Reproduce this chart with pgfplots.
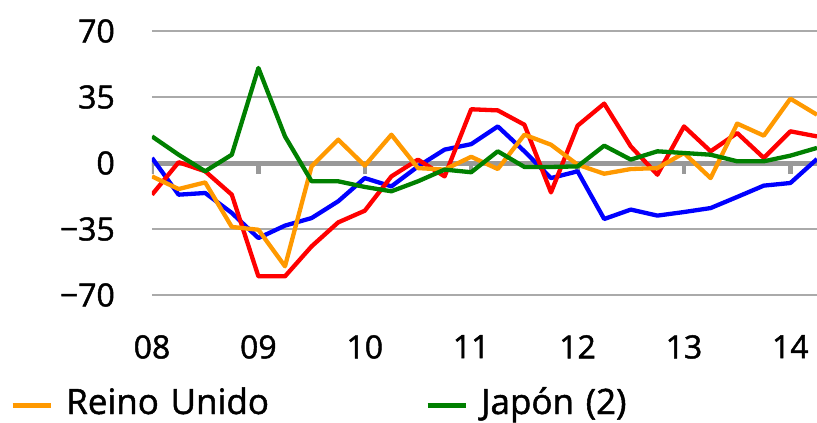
\documentclass[border=0pt]{standalone}
\usepackage{fontspec}
\setmainfont{Open Sans}[FakeBold=1.4]
\usepackage{pgfplots}
\pgfplotsset{compat=1.18}

\definecolor{ukorange}{RGB}{255,153,0}
\definecolor{jpgreen}{RGB}{0,128,0}
\definecolor{gridgray}{RGB}{170,170,170}
\definecolor{zerogray}{RGB}{153,153,153}

\begin{document}
\begin{tikzpicture}
\useasboundingbox (-152pt,-128pt) rectangle (665pt,295pt);
\begin{axis}[
  scale only axis,
  width=665pt,height=264pt,
  xmin=2008,xmax=2014.25,
  ymin=-70,ymax=70,
  axis line style={draw=none},
  major tick length=0pt,
  xtick={2008,...,2014},
  xticklabels={08,09,10,11,12,13,14},
  ytick={-70,-35,0,35,70},
  yticklabels={−70,−35,0,35,70},
  xticklabel style={font=\fontsize{32}{38}\selectfont,anchor=north,inner sep=0pt,yshift=-40pt},
  yticklabel style={font=\fontsize{32}{38}\selectfont,anchor=east,inner sep=0pt,xshift=-37pt},
  extra y ticks={-70,-35,35,70},
  extra y tick labels={},
  extra y tick style={grid=major,major grid style={gridgray,line width=2.3pt}},
  legend columns=2,
  legend image code/.code={\draw[#1,line width=5pt] (0pt,0pt) -- (38pt,0pt);},
  legend style={at={(0,0)},anchor=west,xshift=-142pt,yshift=-110pt,
    draw=none,fill=none,inner sep=0pt,
    nodes={inner sep=0pt,anchor=west,text width=346pt,text height=27pt,text depth=9pt,
      font=\fontsize{35}{42}\selectfont},
    /tikz/every odd column/.append style={column sep=13pt},
    /tikz/every even column/.append style={column sep=13pt}},
  every axis plot/.append style={line width=4.3pt,line join=round},
]
% zero line with year ticks
\draw[zerogray,line width=5pt] (axis cs:2007.97,0) -- (axis cs:2014.25,0);
\pgfplotsinvokeforeach{2008,...,2014}{
  \draw[zerogray,line width=4.5pt] (axis cs:#1,0) -- ++(0pt,-11pt);
}
% blue
\addplot[blue,forget plot] coordinates {
(2008.00,2.7) (2008.25,-16.8) (2008.50,-15.9) (2008.75,-26.5)
(2009.00,-39.8) (2009.25,-33.2) (2009.50,-29.2) (2009.75,-20.3)
(2010.00,-8.0) (2010.25,-12.4) (2010.50,-1.8) (2010.75,7.1)
(2011.00,10.0) (2011.25,19.4) (2011.50,6.2) (2011.75,-8.0)
(2012.00,-4.4) (2012.25,-29.7) (2012.50,-24.7) (2012.75,-27.9)
(2013.00,-26.0) (2013.25,-23.9) (2013.50,-18.0) (2013.75,-12.0)
(2014.00,-10.6) (2014.25,2.1)};
% red
\addplot[red,forget plot] coordinates {
(2008.00,-16.8) (2008.25,0.4) (2008.50,-4.4) (2008.75,-16.8)
(2009.00,-60.1) (2009.25,-60.1) (2009.50,-44.2) (2009.75,-31.5)
(2010.00,-25.3) (2010.25,-7.1) (2010.50,1.8) (2010.75,-7.1)
(2011.00,28.5) (2011.25,27.9) (2011.50,20.3) (2011.75,-15.6)
(2012.00,19.8) (2012.25,31.5) (2012.50,8.8) (2012.75,-6.2)
(2013.00,19.4) (2013.25,6.2) (2013.50,15.9) (2013.75,2.7)
(2014.00,16.8) (2014.25,14.1)};
% orange
\addplot[ukorange] coordinates {
(2008.00,-7.1) (2008.25,-13.8) (2008.50,-10.3) (2008.75,-33.9)
(2009.00,-35.4) (2009.25,-54.8) (2009.50,-1.8) (2009.75,12.4)
(2010.00,-1.4) (2010.25,15.0) (2010.50,-2.7) (2010.75,-3.5)
(2011.00,3.3) (2011.25,-3.2) (2011.50,15.0) (2011.75,9.7)
(2012.00,-0.9) (2012.25,-5.7) (2012.50,-3.2) (2012.75,-2.7)
(2013.00,5.3) (2013.25,-8.0) (2013.50,20.9) (2013.75,14.5)
(2014.00,34.1) (2014.25,25.6)};
\addlegendentry{Reino Unido}
% green
\addplot[jpgreen] coordinates {
(2008.00,14.1) (2008.25,4.4) (2008.50,-4.4) (2008.75,4.4)
(2009.00,50.4) (2009.25,14.1) (2009.50,-9.7) (2009.75,-9.7)
(2010.00,-12.7) (2010.25,-15.0) (2010.50,-9.7) (2010.75,-3.5)
(2011.00,-4.9) (2011.25,6.2) (2011.50,-2.1) (2011.75,-2.1)
(2012.00,-1.8) (2012.25,9.2) (2012.50,1.8) (2012.75,6.2)
(2013.00,5.3) (2013.25,4.4) (2013.50,0.9) (2013.75,0.9)
(2014.00,3.9) (2014.25,8.0)};
\addlegendentry{Japón (2)}
\end{axis}
\end{tikzpicture}
\end{document}
